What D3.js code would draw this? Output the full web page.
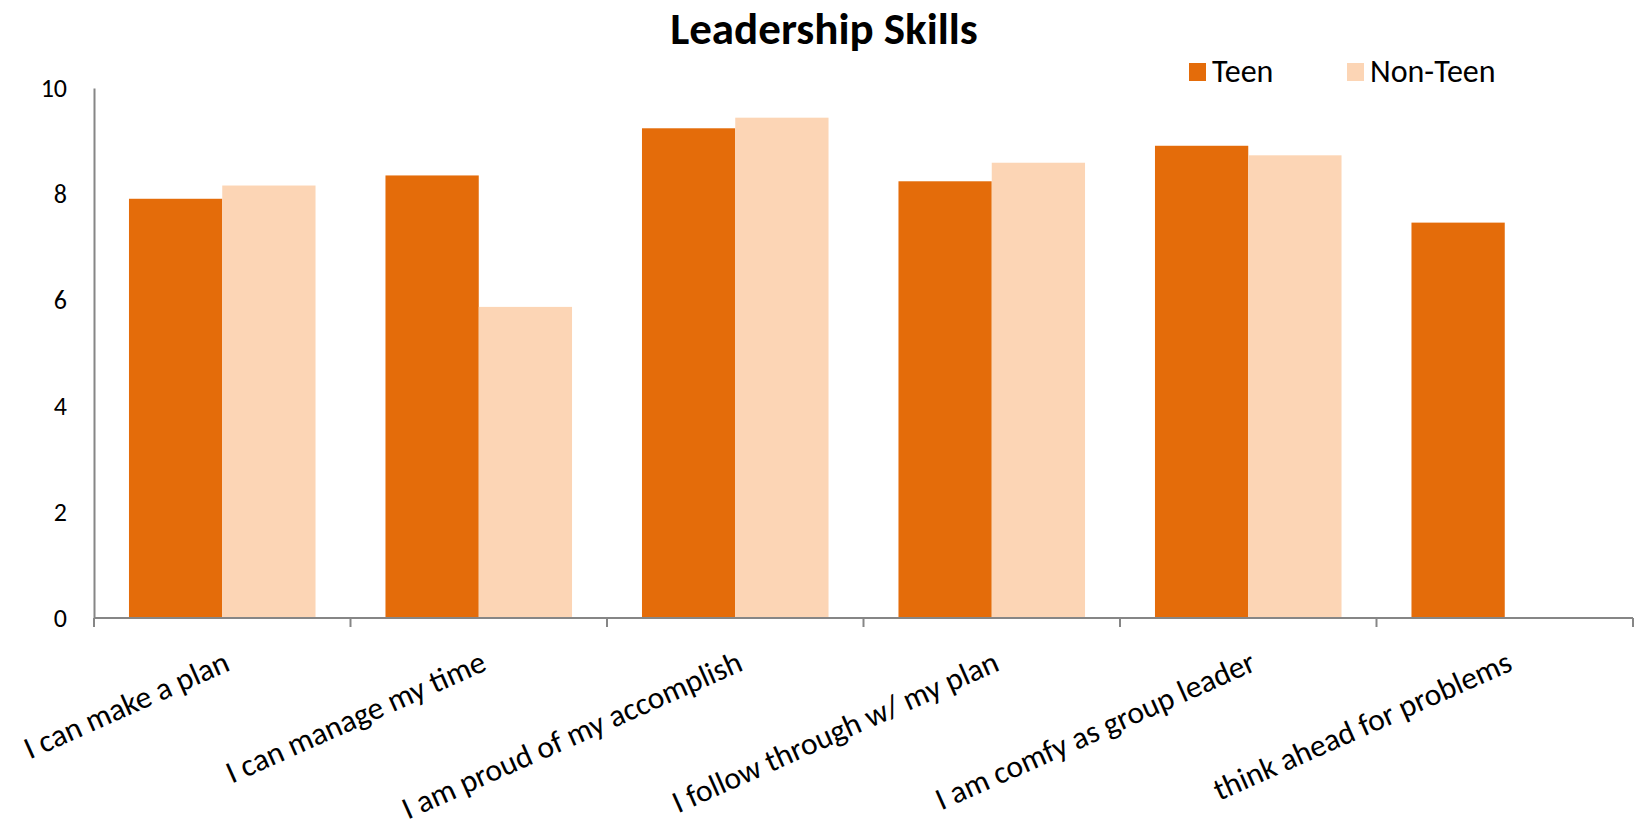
<!DOCTYPE html>
<html>
<head>
<meta charset="utf-8">
<script src="https://cdnjs.cloudflare.com/ajax/libs/d3/7.8.5/d3.min.js"></script>
<style>
  body { margin: 0; background: #fff; }
  text { font-family: Carlito, Calibri, Lato, sans-serif; fill: #000; }
  .axis path, .axis line { stroke: #868686; stroke-width: 2; }
</style>
</head>
<body>
<div id="chart"></div>
<script>
// data
var categories = ["I can make a plan", "I can manage my time", "I am proud of my accomplish",
                  "I follow through w/ my plan", "I am comfy as group leader", "think ahead for problems"];
var seriesNames = ["Teen", "Non-Teen"];
var teen = [7.91, 8.35, 9.24, 8.24, 8.91, 7.46];
var nonTeen = [8.16, 5.87, 9.44, 8.59, 8.73, null];
var yTicks = [0, 2, 4, 6, 8, 10];

var W = 1635, H = 827;
var margin = {top: 88, right: 2, bottom: 209, left: 94},
    width = W - margin.left - margin.right,
    height = H - margin.top - margin.bottom;

var color = d3.scaleOrdinal()
    .domain(seriesNames)
    .range(["#e46c0a", "#fcd5b5"]);

var x0 = d3.scaleBand()
    .domain(categories)
    .range([0, width])
    .padding(0);

// 75% gap between clusters
var x1 = d3.scaleBand()
    .domain(seriesNames)
    .range([0, x0.bandwidth()])
    .paddingInner(0)
    .paddingOuter(0.375);

var y = d3.scaleLinear()
    .domain([0, 10])
    .range([height, 0]);

var rows = categories.map(function(c, i) {
    return {
        name: c,
        values: [
            {series: "Teen", value: teen[i]},
            {series: "Non-Teen", value: nonTeen[i]}
        ].filter(function(v) { return v.value != null; })
    };
});

var svg = d3.select("#chart").append("svg")
    .attr("width", W)
    .attr("height", H)
    .append("g")
    .attr("transform", "translate(" + margin.left + "," + margin.top + ")");

// TITLE

svg.append("text")
    .attr("x", 824 - margin.left)
    .attr("y", 44 - margin.top)
    .attr("text-anchor", "middle")
    .style("font-size", "45px")
    .style("font-weight", "bold")
    .text("Leadership Skills");

// BARS

var group = svg.selectAll(".cat")
    .data(rows)
    .enter().append("g")
    .attr("class", "cat")
    .attr("transform", function(d) { return "translate(" + x0(d.name) + ",0)"; });

group.selectAll("rect")
    .data(function(d) { return d.values; })
    .enter().append("rect")
    .attr("x", function(d) { return x1(d.series); })
    .attr("y", function(d) { return y(d.value); })
    .attr("width", x1.bandwidth())
    .attr("height", function(d) { return height - y(d.value); })
    .attr("fill", function(d) { return color(d.series); });

// AXES

var yAxis = svg.append("g")
    .attr("class", "axis y")
    .call(d3.axisLeft(y).tickValues(yTicks).tickSize(0).tickPadding(27).tickFormat(d3.format("d")));
yAxis.selectAll("text").style("font-size", "26px");

// category boundaries get the ticks, like Excel
var xAxis = svg.append("g")
    .attr("class", "axis x")
    .attr("transform", "translate(0," + height + ")");

xAxis.append("line")
    .attr("x1", 0).attr("x2", width)
    .attr("y1", 0).attr("y2", 0);

xAxis.selectAll(".tick")
    .data(d3.range(categories.length + 1))
    .enter().append("line")
    .attr("class", "tick")
    .attr("x1", function(i) { return i * x0.step(); })
    .attr("x2", function(i) { return i * x0.step(); })
    .attr("y1", 0)
    .attr("y2", 9);

xAxis.selectAll(".lbl")
    .data(categories)
    .enter().append("text")
    .attr("class", "lbl")
    .attr("text-anchor", "end")
    .attr("dy", "0.72em")
    .attr("transform", function(d) {
        return "translate(" + (x0(d) + x0.bandwidth() / 2) + ",31) rotate(-24)";
    })
    .style("font-size", "31.5px")
    .text(function(d) { return d; });

// LEGEND

var legend = svg.selectAll(".legend")
    .data(seriesNames)
    .enter().append("g")
    .attr("class", "legend")
    .attr("transform", function(d, i) {
        return "translate(" + ([1189, 1347][i] - margin.left) + "," + (63 - margin.top) + ")";
    });

legend.append("rect")
    .attr("width", 17)
    .attr("height", 18)
    .attr("fill", function(d) { return color(d); });

legend.append("text")
    .attr("x", 23)
    .attr("y", 19)
    .style("font-size", "32px")
    .text(function(d) { return d; });
</script>
</body>
</html>
